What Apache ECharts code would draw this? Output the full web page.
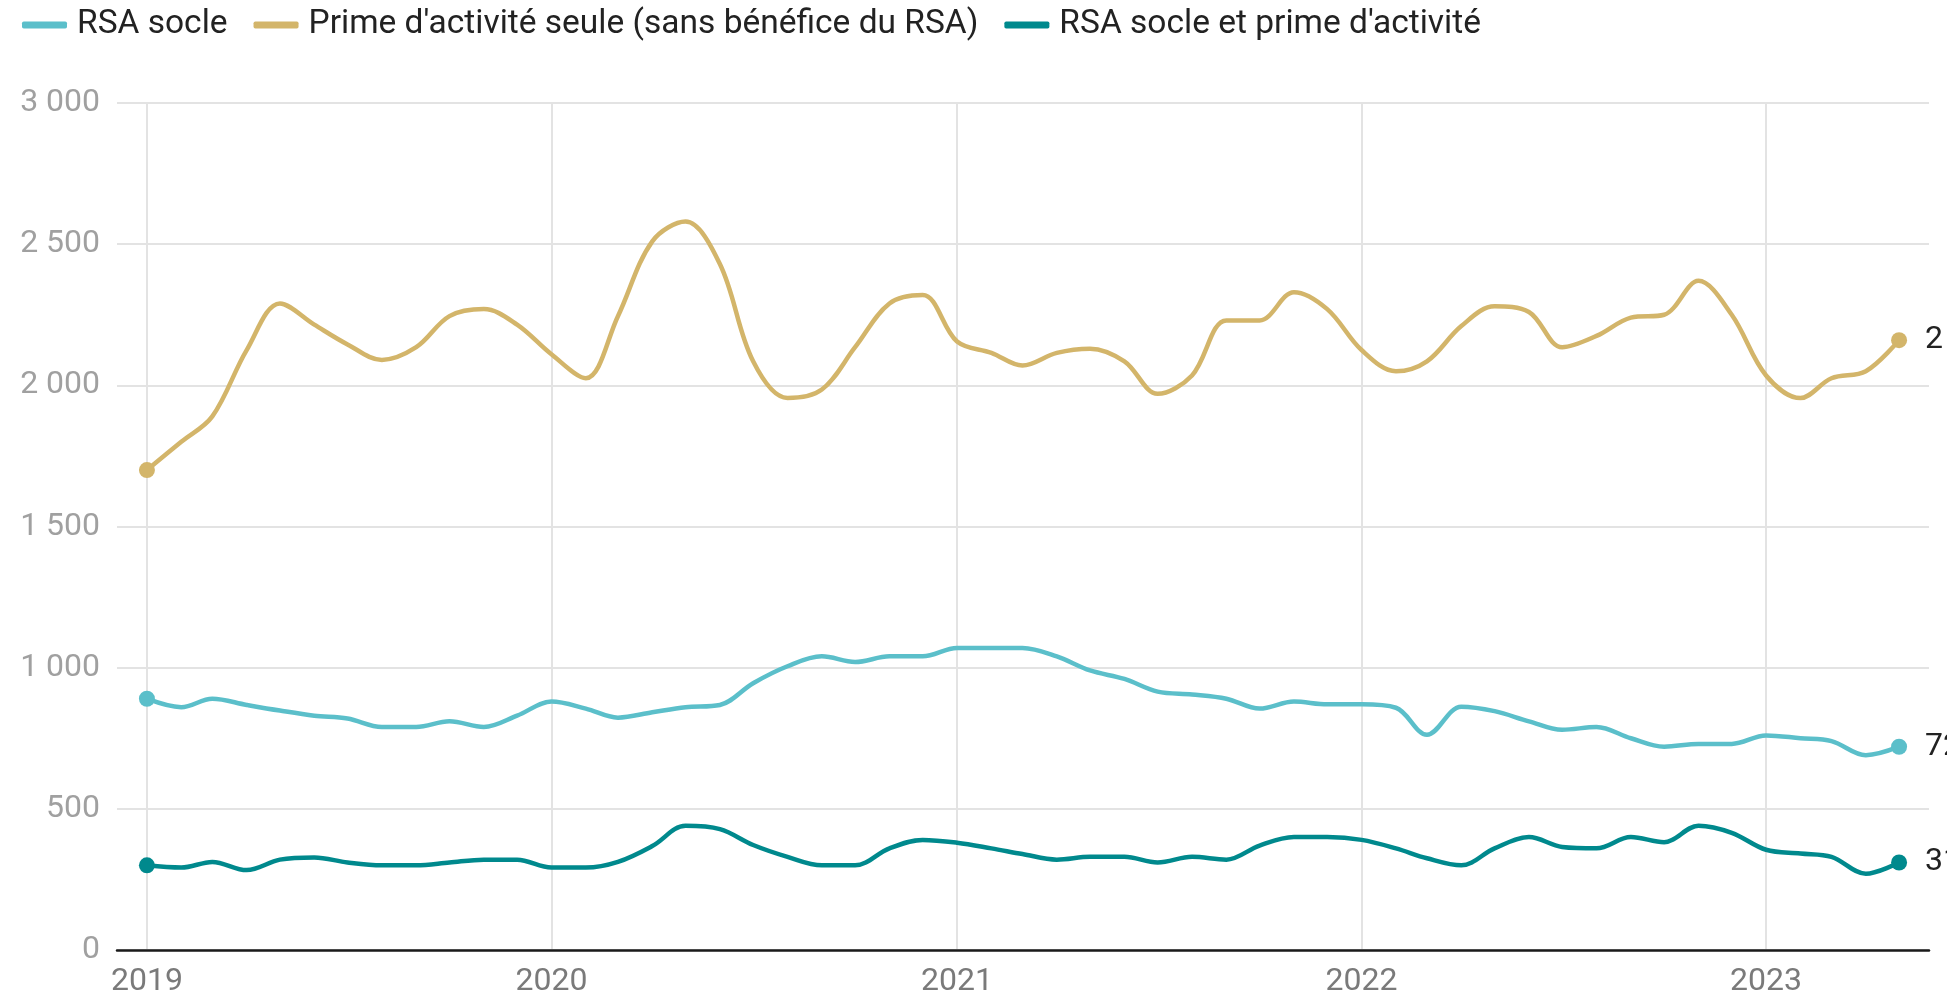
<!DOCTYPE html>
<html>
<head>
<meta charset="utf-8">
<script src="https://cdn.jsdelivr.net/npm/echarts@6/dist/echarts.min.js"></script>
<style>
  html, body { margin: 0; padding: 0; background: #ffffff; }
  #chart { width: 1947px; height: 1002px; }
</style>
</head>
<body>
<div id="chart"></div>
<script>
// Months, January 2019 to May 2023
const months = [
  '2019-01-01','2019-02-01','2019-03-01','2019-04-01','2019-05-01','2019-06-01','2019-07-01','2019-08-01','2019-09-01','2019-10-01','2019-11-01','2019-12-01',
  '2020-01-01','2020-02-01','2020-03-01','2020-04-01','2020-05-01','2020-06-01','2020-07-01','2020-08-01','2020-09-01','2020-10-01','2020-11-01','2020-12-01',
  '2021-01-01','2021-02-01','2021-03-01','2021-04-01','2021-05-01','2021-06-01','2021-07-01','2021-08-01','2021-09-01','2021-10-01','2021-11-01','2021-12-01',
  '2022-01-01','2022-02-01','2022-03-01','2022-04-01','2022-05-01','2022-06-01','2022-07-01','2022-08-01','2022-09-01','2022-10-01','2022-11-01','2022-12-01',
  '2023-01-01','2023-02-01','2023-03-01','2023-04-01','2023-05-01'
];

const seriesNames = [
  'RSA socle',
  "Prime d'activité seule (sans bénéfice du RSA)",
  "RSA socle et prime d'activité"
];

const rsaSocle = [
  890, 860, 890, 868, 848, 830, 820, 790, 790, 810, 790, 830,
  880, 855, 823, 842, 860, 868, 945, 1005, 1040, 1020, 1040, 1040,
  1070, 1070, 1070, 1040, 990, 960, 915, 905, 890, 855, 880, 870,
  870, 858, 762, 862, 846, 810, 780, 790, 750, 720, 730, 730,
  760, 750, 740, 690, 720
];

const primeSeule = [
  1700, 1800, 1890, 2125, 2290, 2215, 2145, 2090, 2135, 2245, 2270, 2215,
  2110, 2025, 2245, 2510, 2580, 2430, 2085, 1955, 1985, 2135, 2290, 2320,
  2155, 2115, 2070, 2115, 2130, 2085, 1970, 2035, 2230, 2230, 2330, 2270,
  2125, 2050, 2085, 2210, 2280, 2260, 2135, 2175, 2240, 2250, 2370, 2250,
  2035, 1955, 2025, 2050, 2160
];

const rsaEtPrime = [
  300, 292, 312, 283, 320, 328, 310, 300, 300, 310, 320, 320,
  292, 292, 312, 368, 440, 428, 372, 330, 300, 300, 360, 390,
  380, 360, 340, 320, 330, 330, 310, 330, 320, 370, 400, 400,
  390, 360, 325, 300, 360, 400, 365, 360, 400, 382, 440, 415,
  355, 342, 330, 270, 310
];

const colors = ['#5bbfca', '#d3b56a', '#00898d'];
const yTicks = { min: 0, max: 3000, step: 500 };

function fmtThousands(v) {
  return String(Math.round(v)).replace(/\B(?=(\d{3})+(?!\d))/g, ' ');
}

function pairs(values) {
  return values.map((v, i) => [months[i], v]);
}

const lastIndex = months.length - 1;

function makeSeries(name, values, color) {
  return {
    name: name,
    type: 'line',
    data: pairs(values),
    smooth: 0.35,
    showAllSymbol: true,
    symbol: 'circle',
    symbolSize: (val, params) => (params.dataIndex === 0 || params.dataIndex === lastIndex) ? 16 : 0,
    lineStyle: { color: color, width: 4.5 },
    itemStyle: { color: color },
    emphasis: { disabled: true },
    endLabel: {
      show: true,
      distance: 26,
      color: '#222222',
      fontFamily: 'Roboto',
      fontSize: 32,
      formatter: p => fmtThousands(p.value[1])
    },
    z: 3
  };
}

const chart = echarts.init(document.getElementById('chart'), null, { renderer: 'canvas' });

chart.setOption({
  animation: false,
  backgroundColor: '#ffffff',
  color: colors,
  legend: {
    left: 17,
    top: 0,
    itemWidth: 45,
    itemHeight: 7,
    itemGap: 26,
    icon: 'roundRect',
    textStyle: {
      fontFamily: 'Roboto',
      fontSize: 33.5,
      color: '#222222',
      lineHeight: 40,
      padding: [0, 0, 0, 5]
    },
    data: seriesNames
  },
  grid: {
    left: 117,
    right: 18,
    top: 103,
    bottom: 52,
    containLabel: false
  },
  xAxis: {
    type: 'time',
    min: '2018-12-05',
    max: '2023-05-28',
    minInterval: 365 * 24 * 3600 * 1000,
    axisLine: { show: true, lineStyle: { color: '#1a1a1a', width: 2.5 } },
    axisTick: { show: false },
    axisLabel: {
      formatter: '{yyyy}',
      fontFamily: 'Roboto',
      fontSize: 32,
      color: '#7a7a7a',
      margin: 16,
      showMinLabel: false,
      showMaxLabel: false
    },
    splitLine: {
      show: true,
      showMinLine: false,
      showMaxLine: false,
      lineStyle: { color: '#e3e3e3', width: 2 }
    }
  },
  yAxis: {
    type: 'value',
    min: yTicks.min,
    max: yTicks.max,
    interval: yTicks.step,
    axisLine: { show: false },
    axisTick: { show: false },
    axisLabel: {
      formatter: v => fmtThousands(v),
      fontFamily: 'Roboto',
      fontSize: 32,
      color: '#a0a0a0',
      margin: 17
    },
    splitLine: { lineStyle: { color: '#e3e3e3', width: 2 } }
  },
  series: [
    makeSeries(seriesNames[0], rsaSocle, colors[0]),
    makeSeries(seriesNames[1], primeSeule, colors[1]),
    makeSeries(seriesNames[2], rsaEtPrime, colors[2])
  ]
});
</script>
</body>
</html>
